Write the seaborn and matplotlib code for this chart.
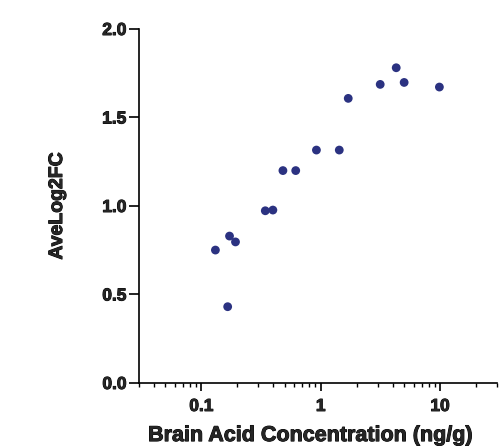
import numpy as np
import pandas as pd
import seaborn as sns
import matplotlib.pyplot as plt
import matplotlib.patheffects as pe
from matplotlib.ticker import LogLocator, FixedLocator

# data
conc = [0.131, 0.172, 0.193, 0.166, 0.343, 0.397, 0.482, 0.617, 0.92, 1.43, 1.70, 3.15, 4.29, 5.0, 9.87]
ave_log2fc = [0.751, 0.830, 0.797, 0.431, 0.973, 0.977, 1.200, 1.200, 1.316, 1.316, 1.608, 1.687, 1.781, 1.698, 1.672]
x_ticks = [0.1, 1, 10]
x_ticklabels = ["0.1", "1", "10"]
y_ticks = [0.0, 0.5, 1.0, 1.5, 2.0]

df = pd.DataFrame({"conc": conc, "fc": ave_log2fc})

sns.set_style("ticks")
plt.rcParams['font.family'] = ['Liberation Sans', 'DejaVu Sans']
plt.rcParams['font.weight'] = 'bold'

fig = plt.figure(figsize=(4.99, 4.46), dpi=100)
ax = fig.add_axes([0.2786, 0.1413, 0.7174, 0.7937])

sns.scatterplot(data=df, x="conc", y="fc", ax=ax, color="#2b3281",
                s=40, edgecolor="none", legend=False)

ax.set_xscale("log")
ax.set_xlim(0.03, 30)
ax.set_ylim(0, 2.0)
ax.xaxis.set_major_locator(FixedLocator(x_ticks))
ax.set_xticklabels(x_ticklabels)
ax.xaxis.set_minor_locator(LogLocator(base=10, subs=np.arange(2, 10)))
ax.xaxis.set_minor_formatter(plt.NullFormatter())
ax.set_yticks(y_ticks)
ax.set_yticklabels([f"{v:.1f}" for v in y_ticks])

for s in ["top", "right"]:
    ax.spines[s].set_visible(False)
for s in ["left", "bottom"]:
    ax.spines[s].set_linewidth(1.2)
    ax.spines[s].set_color("black")

ax.tick_params(axis="y", which="major", length=7, width=1.2, labelsize=12.5, color="black", pad=2)
ax.tick_params(axis="x", which="major", length=5.5, width=1.2, labelsize=12.5, color="black", pad=6)
ax.tick_params(axis="x", which="minor", length=3, width=1.0, color="black")

heavy = [pe.withStroke(linewidth=0.7, foreground="black")]
for lab in ax.get_xticklabels() + ax.get_yticklabels():
    lab.set_path_effects(heavy)

ax.set_xlabel("Brain Acid Concentration (ng/g)", fontsize=15.5, fontweight="bold", labelpad=8,
              path_effects=heavy)
ax.xaxis.label.set_x(0.479)
ax.set_ylabel("AveLog2FC", fontsize=14, fontweight="bold", labelpad=26, path_effects=heavy)

fig.savefig("out.png", dpi=100)
